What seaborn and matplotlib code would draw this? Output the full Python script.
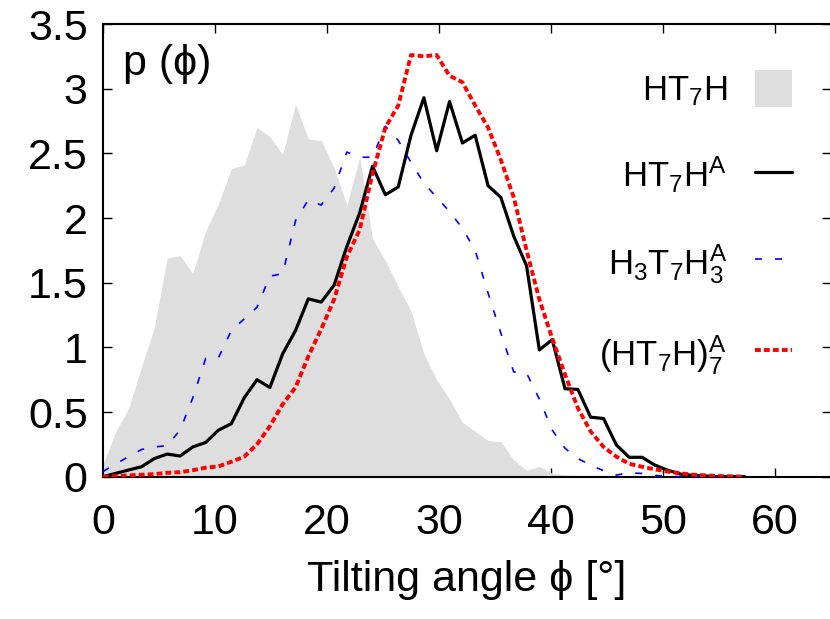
import numpy as np
import pandas as pd
import matplotlib
matplotlib.use("Agg")
import matplotlib.pyplot as plt
import seaborn as sns

# ---------------- data ----------------
angle = [0.00, 1.15, 2.29, 3.44, 4.58, 5.73, 6.88, 8.02, 9.17, 10.31,
         11.46, 12.61, 13.75, 14.90, 16.04, 17.19, 18.33, 19.48, 20.63, 21.77,
         22.92, 24.06, 25.21, 26.36, 27.50, 28.65, 29.79, 30.94, 32.09, 33.23,
         34.38, 35.52, 36.67, 37.82, 38.96, 40.11, 41.25, 42.40, 43.54, 44.69,
         45.84, 46.98, 48.13, 49.27, 50.42, 51.57, 52.71, 53.86, 55.00, 56.15,
         57.30]

p_ht7h = [0.10, 0.35, 0.53, 0.85, 1.15, 1.69, 1.71, 1.57, 1.90, 2.11,
          2.38, 2.41, 2.70, 2.63, 2.49, 2.88, 2.61, 2.60, 2.39, 2.10,
          2.47, 1.84, 1.67, 1.47, 1.28, 0.95, 0.75, 0.60, 0.42, 0.35,
          0.28, 0.27, 0.13, 0.05, 0.08, 0.025, 0.015, 0.01, 0.01, 0.01,
          0.01, 0.008, 0.006, 0.005, 0.004, 0.003, 0.002, 0.0, 0.0, 0.0,
          0.0]

p_ht7h_a = [0.0, 0.026, 0.052, 0.077, 0.14, 0.175, 0.16, 0.23, 0.265, 0.36,
            0.41, 0.61, 0.75, 0.69, 0.95, 1.13, 1.375, 1.35, 1.48, 1.78,
            2.04, 2.40, 2.18, 2.24, 2.64, 2.93, 2.52, 2.90, 2.58, 2.64,
            2.25, 2.16, 1.86, 1.63, 0.98, 1.06, 0.68, 0.675, 0.46, 0.45,
            0.245, 0.15, 0.15, 0.09, 0.05, 0.02, 0.01, 0.005, 0.0, 0.0,
            0.0]

p_h3t7h3_a = [0.04, 0.10, 0.155, 0.21, 0.23, 0.24, 0.36, 0.61, 0.915, 0.92,
              1.13, 1.22, 1.31, 1.55, 1.57, 1.98, 2.14, 2.10, 2.23, 2.51,
              2.47, 2.47, 2.71, 2.60, 2.43, 2.27, 2.16, 2.05, 1.92, 1.75,
              1.42, 1.11, 0.81, 0.80, 0.60, 0.36, 0.22, 0.14, 0.09, 0.046,
              0.013, 0.03, 0.025, 0.01, 0.005, 0.0, 0.0, 0.0, 0.0, 0.0,
              0.0]

p_ht7h_7a = [0.0, 0.005, 0.01, 0.015, 0.02, 0.03, 0.035, 0.05, 0.07, 0.08,
             0.115, 0.155, 0.25, 0.39, 0.56, 0.69, 0.93, 1.14, 1.37, 1.70,
             1.91, 2.34, 2.70, 2.87, 3.26, 3.25, 3.26, 3.10, 3.05, 2.87,
             2.70, 2.45, 2.16, 1.75, 1.37, 1.07, 0.79, 0.53, 0.35, 0.23,
             0.155, 0.10, 0.077, 0.057, 0.04, 0.026, 0.015, 0.01, 0.005, 0.003,
             0.0]

labels = ["HT$_7$H", "HT$_7$H$^\\mathrm{A}$",
          "H$_3$T$_7$H$_3^\\mathrm{A}$", "(HT$_7$H)$_7^\\mathrm{A}$"]

x_ticks = [0, 10, 20, 30, 40, 50, 60]
y_ticks = [0, 0.5, 1, 1.5, 2, 2.5, 3, 3.5]
y_tick_labels = ["0", "0.5", "1", "1.5", "2", "2.5", "3", "3.5"]

# ---------------- style ----------------
sns.set_theme(style="ticks")
plt.rcParams["font.family"] = ["Liberation Sans", "DejaVu Sans"]
plt.rcParams["mathtext.fontset"] = "custom"
plt.rcParams["mathtext.rm"] = "Liberation Sans"
plt.rcParams["mathtext.it"] = "Liberation Sans:italic"
plt.rcParams["mathtext.bf"] = "Liberation Sans:bold"
plt.rcParams["text.color"] = "black"
plt.rcParams["axes.labelcolor"] = "black"
plt.rcParams["xtick.color"] = "black"
plt.rcParams["ytick.color"] = "black"

df = pd.DataFrame({"angle": angle, "ht7h": p_ht7h, "ht7h_a": p_ht7h_a,
                   "h3t7h3_a": p_h3t7h3_a, "ht7h_7a": p_ht7h_7a})

W, H = 830, 619
fig = plt.figure(figsize=(W / 100, H / 100), dpi=100)
ax = fig.add_axes([103 / W, (H - 476.7) / H, 728 / W, 452.7 / H])

fill = ax.fill_between(df["angle"], 0, df["ht7h"], color="#dedede",
                       linewidth=0, label=labels[0], zorder=1)
sns.lineplot(data=df, x="angle", y="ht7h_a", ax=ax, color="black",
             linewidth=2.3, label=labels[1], zorder=3)
sns.lineplot(data=df, x="angle", y="h3t7h3_a", ax=ax, color="#0000ff",
             linewidth=1.2, linestyle=(0, (4.2, 7.8)), label=labels[2], zorder=4)
sns.lineplot(data=df, x="angle", y="ht7h_7a", ax=ax, color="#ff0000",
             linewidth=2.8, linestyle=(0, (1.5, 0.8)), label=labels[3], zorder=5)

ax.set_xlim(0, 65)
ax.set_ylim(0, 3.5)
ax.set_xticks(x_ticks)
ax.set_xticklabels([str(t) for t in x_ticks])
ax.set_yticks(y_ticks)
ax.set_yticklabels(y_tick_labels)
ax.tick_params(direction="in", length=6.5, width=1.0, top=True, right=True,
               labelsize=31, colors="black")
ax.tick_params(axis="x", pad=19)
ax.tick_params(axis="y", pad=11)
for s in ax.spines.values():
    s.set_linewidth(1.5)
    s.set_color("black")
    s.set_visible(True)

ax.set_xlabel("Tilting angle \u03d5 [\u00b0]", fontsize=31, labelpad=12,
              color="black")
ax.set_ylabel("")
ax.text(0.027, 0.955, "p (\u03d5)", transform=ax.transAxes, fontsize=31,
        ha="left", va="top", color="black")

handles, labs = ax.get_legend_handles_labels()
order = [labs.index(l) for l in labels]
leg = ax.legend([handles[i] for i in order], [labs[i] for i in order],
                loc="upper right", bbox_to_anchor=(0.9464, 0.898),
                frameon=False, fontsize=25, markerfirst=False,
                handlelength=1.07, handleheight=1.24, handletextpad=0.8,
                labelspacing=1.35, borderpad=0, borderaxespad=0,
                labelcolor="black")

fig.savefig("out.png", dpi=100)
